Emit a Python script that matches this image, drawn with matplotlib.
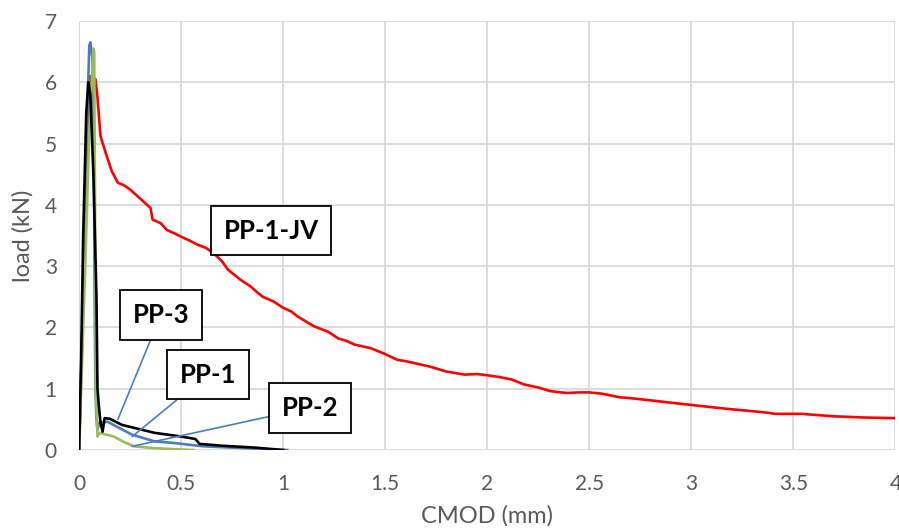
import numpy as np
import matplotlib.pyplot as plt

# PP-1-JV (red)
jv_x = [0, 0.02, 0.04, 0.055, 0.08, 0.09, 0.105, 0.13, 0.16, 0.19, 0.22, 0.25, 0.30, 0.35, 0.36,
        0.40, 0.43, 0.47, 0.50, 0.54, 0.58, 0.62, 0.66, 0.70, 0.73, 0.79, 0.84, 0.87, 0.90, 0.955,
        1.0, 1.04, 1.07, 1.15, 1.22, 1.27, 1.31, 1.35, 1.43, 1.49, 1.56, 1.60, 1.64, 1.72,
        1.80, 1.89, 1.95, 2.0, 2.06, 2.12, 2.18, 2.25, 2.31, 2.39, 2.45, 2.50, 2.56, 2.65,
        2.72, 2.80, 2.88, 2.96, 3.07, 3.18, 3.28, 3.37, 3.41, 3.54, 3.62, 3.70, 3.85, 4.0]
jv_y = [0, 2.5, 5.2, 6.1, 6.05, 5.75, 5.12, 4.85, 4.55, 4.36, 4.32, 4.25, 4.1, 3.95, 3.76,
        3.70, 3.59, 3.53, 3.48, 3.42, 3.35, 3.30, 3.21, 3.08, 2.94, 2.78, 2.67, 2.58, 2.50, 2.42,
        2.32, 2.26, 2.18, 2.02, 1.93, 1.82, 1.78, 1.72, 1.66, 1.58, 1.47, 1.45, 1.42, 1.36,
        1.28, 1.23, 1.24, 1.22, 1.19, 1.15, 1.07, 1.02, 0.96, 0.93, 0.94, 0.94, 0.92, 0.86,
        0.84, 0.81, 0.78, 0.75, 0.71, 0.67, 0.64, 0.61, 0.59, 0.59, 0.57, 0.55, 0.53, 0.52]

# PP-1 (blue)
pp1_x = [0, 0.02, 0.035, 0.05, 0.055, 0.065, 0.072, 0.076, 0.08, 0.085, 0.09, 0.10,
         0.14, 0.26, 0.31, 0.37, 0.45, 0.61, 0.88, 1.02]
pp1_y = [0, 2.5, 4.9, 6.6, 6.65, 6.4, 5.0, 2.5, 1.0, 0.5, 0.33, 0.45,
         0.46, 0.25, 0.20, 0.14, 0.12, 0.06, 0.02, 0.0]

# PP-2 (green)
pp2_x = [0, 0.03, 0.05, 0.07, 0.074, 0.078, 0.082, 0.09, 0.10, 0.17, 0.22, 0.27, 0.37, 0.56]
pp2_y = [0, 3.0, 5.2, 6.55, 6.5, 4.0, 1.0, 0.22, 0.28, 0.22, 0.13, 0.06, 0.03, 0.0]

# PP-3 (black)
pp3_x = [0, 0.01, 0.02, 0.035, 0.045, 0.055, 0.07, 0.085, 0.09, 0.10, 0.105, 0.115,
         0.125, 0.15, 0.21, 0.37, 0.50, 0.57, 0.59, 0.70, 0.86, 1.0]
pp3_y = [0, 1.5, 3.5, 5.5, 6.0, 5.8, 4.5, 2.5, 1.0, 0.6, 0.45, 0.3,
         0.52, 0.51, 0.41, 0.28, 0.22, 0.18, 0.10, 0.07, 0.04, 0.0]

labels = ['PP-1-JV', 'PP-3', 'PP-1', 'PP-2']
label_pos = [(0.94, 3.58), (0.40, 2.2), (0.63, 1.23), (1.13, 0.69)]
arrow_to = [None, (0.19, 0.5), (0.26, 0.22), (0.26, 0.06)]

fig = plt.figure(figsize=(8.99, 5.31), dpi=100)
ax = fig.add_axes([0.088, 0.1525, 0.908, 0.808])

ax.plot(jv_x, jv_y, color='#FF0000', lw=1.9)
ax.plot(pp1_x, pp1_y, color='#4A7EBB', lw=1.9)
ax.plot(pp2_x, pp2_y, color='#9BBB59', lw=1.9)
ax.plot(pp3_x, pp3_y, color='black', lw=1.9)

ax.set_xlim(0, 4)
ax.set_ylim(0, 7)
ax.set_xticks(np.arange(0, 4.01, 0.5))
ax.set_xticklabels(['0', '0.5', '1', '1.5', '2', '2.5', '3', '3.5', '4'])
ax.set_yticks(range(0, 8))
ax.grid(True, color='#D9D9D9', lw=1.3)
ax.set_axisbelow(True)
for s in ax.spines.values():
    s.set_visible(False)
ax.tick_params(length=0, labelsize=15, labelcolor='#595959')
ax.tick_params(axis='x', pad=17)
ax.tick_params(axis='y', pad=16)
for t in ax.get_xticklabels() + ax.get_yticklabels():
    t.set_family('Lato')
ax.set_xlabel('CMOD (mm)', fontsize=17, color='#595959', family='Lato', labelpad=8)
ax.set_ylabel('load (kN)', fontsize=17, color='#595959', family='Lato', labelpad=8)

for lab, pos, tgt in zip(labels, label_pos, arrow_to):
    box = dict(boxstyle='square,pad=0.5', fc='white', ec='black', lw=1.3)
    if tgt is None:
        ax.text(pos[0], pos[1], lab, ha='center', va='center', fontsize=18.5,
                fontweight='bold', family='Lato', bbox=box, zorder=5)
    else:
        ax.annotate(lab, xy=tgt, xytext=pos, ha='center', va='center', fontsize=18.5,
                    fontweight='bold', family='Lato', bbox=box, zorder=5,
                    arrowprops=dict(arrowstyle='-', color='#4A7EBB', lw=1.2,
                                    shrinkA=0, shrinkB=0))

plt.savefig('out.png')
